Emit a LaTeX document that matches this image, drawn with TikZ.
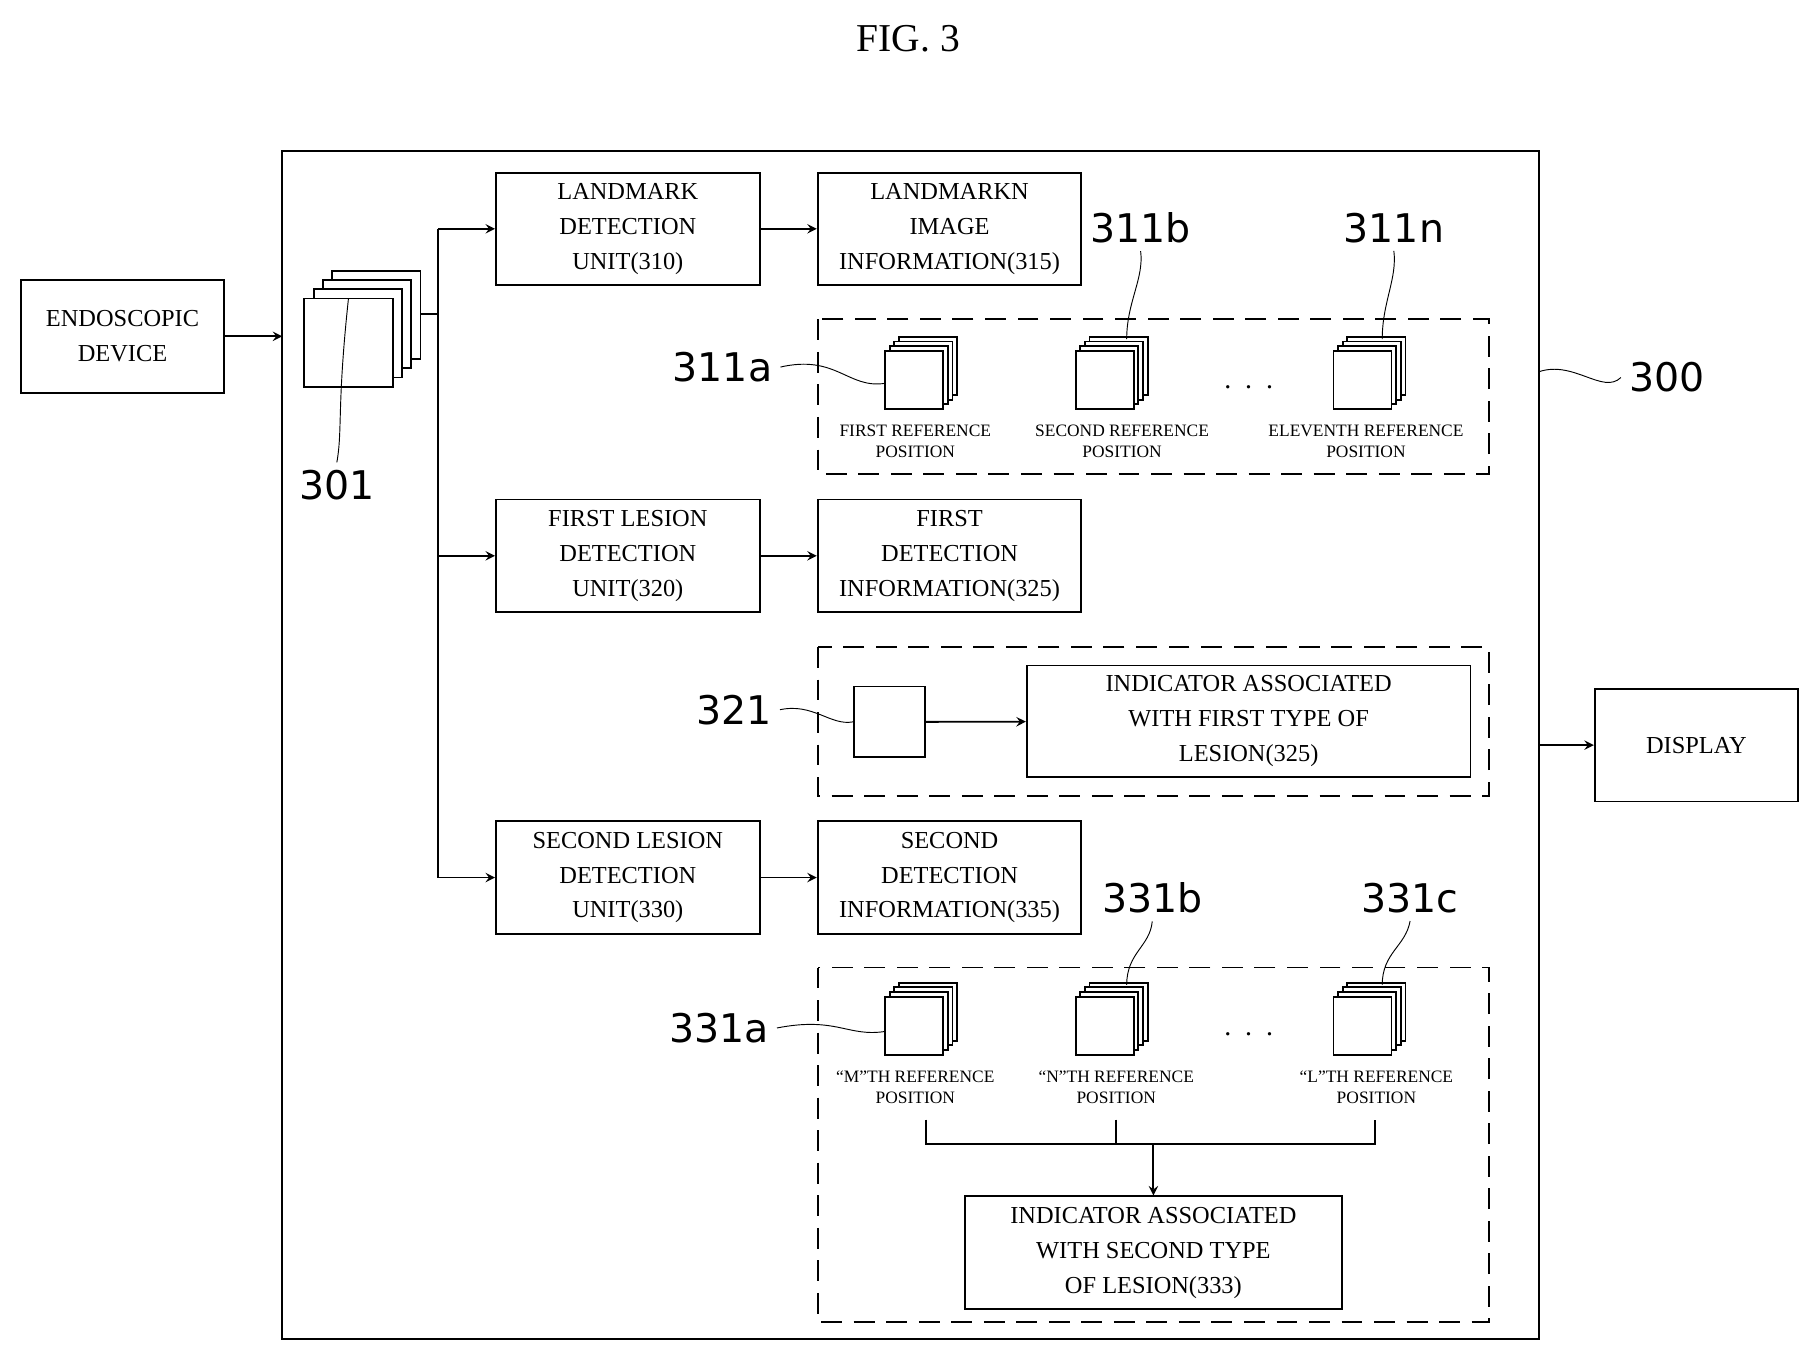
\documentclass[tikz,border=0pt]{standalone}
\usepackage{fontspec}
\setmainfont{Liberation Serif}
\newfontfamily\numfont{DejaVu Sans}
\usetikzlibrary{arrows,positioning}
\tikzstyle{arrow} = [thick,->,>=stealth]
% one stack of four sheets, front sheet lower left corner at #2
\newcommand{\sheetstack}[4]{%
  \foreach \k in {3,2,1,0}{
    \draw[thick, fill=white] ($(#2)+(\k*#4,-\k*#4)$) rectangle ++(#3,-#3);
  }
  \coordinate (#1) at ($(#2)+(0.5*#3,-#3)$);
}
\usetikzlibrary{calc}
\begin{document}
\begin{tikzpicture}[x=0.5pt,y=-0.5pt,>=stealth,
    box/.style={draw,thick,align=center,font=\fontsize{10.5}{15}\selectfont},
    dbox/.style={draw,thick,dash pattern=on 9pt off 5pt},
    small/.style={align=center,font=\fontsize{7.5}{9}\selectfont},
    num/.style={font=\numfont\fontsize{17}{17}\selectfont},
    line/.style={thick},
  ]
    \useasboundingbox (0,0) rectangle (1560,1167);
    \node (fig) at (782,33) {\fontsize{17}{17}\selectfont FIG. 3};
    % outer unit
    \draw[line] (243,130) rectangle (1325,1153);
    % create the nodes
    \node (endo) [box, minimum width=87.5pt, minimum height=48.5pt] at (105.5,289.5) {ENDOSCOPIC\\DEVICE};
    \node (disp) [box, minimum width=87.5pt, minimum height=48.5pt] at (1460.5,641.5) {DISPLAY};
    \node (lm) [box, minimum width=113.5pt, minimum height=48pt] at (540.5,197) {LANDMARK\\DETECTION\\UNIT(310)};
    \node (lmi) [box, minimum width=113.5pt, minimum height=48pt] at (817.5,197) {LANDMARKN\\IMAGE\\INFORMATION(315)};
    \node (l1) [box, minimum width=113.5pt, minimum height=48.5pt] at (540.5,478.5) {FIRST LESION\\DETECTION\\UNIT(320)};
    \node (d1) [box, minimum width=113.5pt, minimum height=48.5pt] at (817.5,478.5) {FIRST\\DETECTION\\INFORMATION(325)};
    \node (l2) [box, minimum width=113.5pt, minimum height=48.5pt] at (540.5,755.5) {SECOND LESION\\DETECTION\\UNIT(330)};
    \node (d2) [box, minimum width=113.5pt, minimum height=48.5pt] at (817.5,755.5) {SECOND\\DETECTION\\INFORMATION(335)};
    % dashed groups
    \draw[dbox] (704,275) rectangle (1282,408);
    \draw[dbox] (704,557) rectangle (1282,685);
    \draw[dbox] (704,833) rectangle (1282,1138);
    % image stacks
    \sheetstack{s301}{262,333}{76}{8}
    \sheetstack{s311a}{762,352}{50}{4}
    \sheetstack{s311b}{926,352}{50}{4}
    \sheetstack{s311n}{1148,352}{50}{4}
    \sheetstack{s331a}{762,908}{50}{4}
    \sheetstack{s331b}{926,908}{50}{4}
    \sheetstack{s331c}{1148,908}{50}{4}
    \node at (1075,333) {\large .\ \ .\ \ .};
    \node at (1075,890) {\large .\ \ .\ \ .};
    \node (p1) [small] at (788,380) {FIRST REFERENCE\\POSITION};
    \node (p2) [small] at (966,380) {SECOND REFERENCE\\POSITION};
    \node (p3) [small] at (1176,380) {ELEVENTH REFERENCE\\POSITION};
    \node (q1) [small] at (788,936) {``M''TH REFERENCE\\POSITION};
    \node (q2) [small] at (961,936) {``N''TH REFERENCE\\POSITION};
    \node (q3) [small] at (1185,936) {``L''TH REFERENCE\\POSITION};
    \node (sq) [draw,thick,minimum width=30.5pt,minimum height=30.5pt] at (765.5,621.5) {};
    \node (ind1) [box, minimum width=191pt, minimum height=48pt] at (1075,621) {INDICATOR ASSOCIATED\\WITH FIRST TYPE OF\\LESION(325)};
    \node (ind2) [box, minimum width=162pt, minimum height=48.5pt] at (993,1078.5) {INDICATOR ASSOCIATED\\WITH SECOND TYPE\\OF LESION(333)};
    % reference numbers
    \node (n301) [num] at (290,418) {301};
    \node (n311a) [num] at (622,316) {311a};
    \node (n311b) [num] at (982,196) {311b};
    \node (n311n) [num] at (1200,196) {311n};
    \node (n321) [num] at (632,611) {321};
    \node (n331a) [num] at (619,885) {331a};
    \node (n331b) [num] at (992,773) {331b};
    \node (n331c) [num] at (1214,773) {331c};
    \node (n300) [num] at (1435,325) {300};
    % leaders
    \draw (s301) .. controls (290,350) and (295,370) .. (n301.north);
    \draw (n311a.east) .. controls (720,305) and (730,335) .. (762,330);
    \draw (n311b.south) .. controls (985,240) and (970,260) .. (970,292);
    \draw (n311n.south) .. controls (1203,240) and (1190,260) .. (1190,292);
    \draw (n321.east) .. controls (700,605) and (715,625) .. (sq.west);
    \draw (n331a.east) .. controls (720,875) and (730,893) .. (762,888);
    \draw (n331b.south) .. controls (990,815) and (970,820) .. (970,848);
    \draw (n331c.south) .. controls (1210,815) and (1190,820) .. (1190,848);
    \draw (1325,320) .. controls (1355,310) and (1380,340) .. (n300.west);
    % connect the nodes
    \draw[arrow] (endo) -- (243,289.5);
    \draw[line] (362,270) -- (377,270);
    \draw[line] (377,197) -- (377,755.5);
    \draw[arrow] (377,197) -- (lm);
    \draw[arrow] (377,478.5) -- (l1);
    \draw[arrow] (377,755.5) -- (l2);
    \draw[arrow] (lm) -- (lmi);
    \draw[arrow] (l1) -- (d1);
    \draw[arrow] (l2) -- (d2);
    \draw[arrow] (sq) -- (ind1);
    \draw[arrow] (1325,641.5) -- (disp);
    \draw[line] (797,964) -- (797,985) -- (1184,985) -- (1184,964);
    \draw[line] (961,964) -- (961,985);
    \draw[arrow] (993,985) -- (ind2);
\end{tikzpicture}
\end{document}
